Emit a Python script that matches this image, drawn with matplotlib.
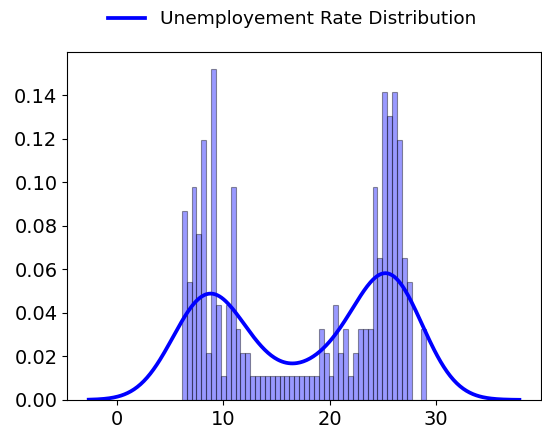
import numpy as np
import matplotlib
matplotlib.use("Agg")
import matplotlib.pyplot as plt

# Histogram of unemployment rates: 50 equal-width bins between the min and max rate
rate_min = 6.1
rate_max = 29.1
bin_counts = [8, 5, 9, 7, 11, 2, 14, 4, 1, 4,
              9, 3, 2, 2, 1, 1, 1, 1, 1, 1,
              1, 1, 1, 1, 1, 1, 1, 1, 3, 2,
              1, 4, 2, 3, 1, 2, 3, 3, 3, 9,
              6, 13, 12, 13, 11, 6, 5, 0, 0, 3]
legend_label = "Unemployement Rate Distribution"

edges = np.linspace(rate_min, rate_max, len(bin_counts) + 1)
centers = 0.5 * (edges[:-1] + edges[1:])
counts = np.array(bin_counts, dtype=float)
samples = np.repeat(centers, counts.astype(int))

# Gaussian KDE, normal-reference bandwidth, evaluated 3 bandwidths beyond the data
n = samples.size
q75, q25 = np.percentile(samples, [75, 25])
spread = min(samples.std(), (q75 - q25) / 1.349)
bw = 1.059 * spread * n ** (-1 / 5)
grid = np.linspace(rate_min - 3 * bw, rate_max + 3 * bw, 400)
z = (grid[:, None] - samples[None, :]) / bw
density = np.exp(-0.5 * z ** 2).sum(axis=1) / (n * bw * np.sqrt(2 * np.pi))

fig = plt.figure(figsize=(5.42, 4.30), dpi=100)
ax = fig.add_axes([0.124, 0.070, 0.874, 0.809])

ax.hist(samples, bins=edges, density=True, color="blue", alpha=0.4,
        edgecolor="black", linewidth=0.8)
ax.plot(grid, density, color="blue", linewidth=2.7, label=legend_label)

ax.set_ylim(bottom=0)
ax.set_xticks([0, 10, 20, 30])
ax.set_yticks(np.arange(0, 0.141, 0.02))
ax.yaxis.set_major_formatter(matplotlib.ticker.FormatStrFormatter("%.2f"))
ax.tick_params(labelsize=14)

ax.legend(loc="lower center", bbox_to_anchor=(0.475, 1.02), frameon=False,
          fontsize=13.3)

fig.savefig("out.png", dpi=100)
